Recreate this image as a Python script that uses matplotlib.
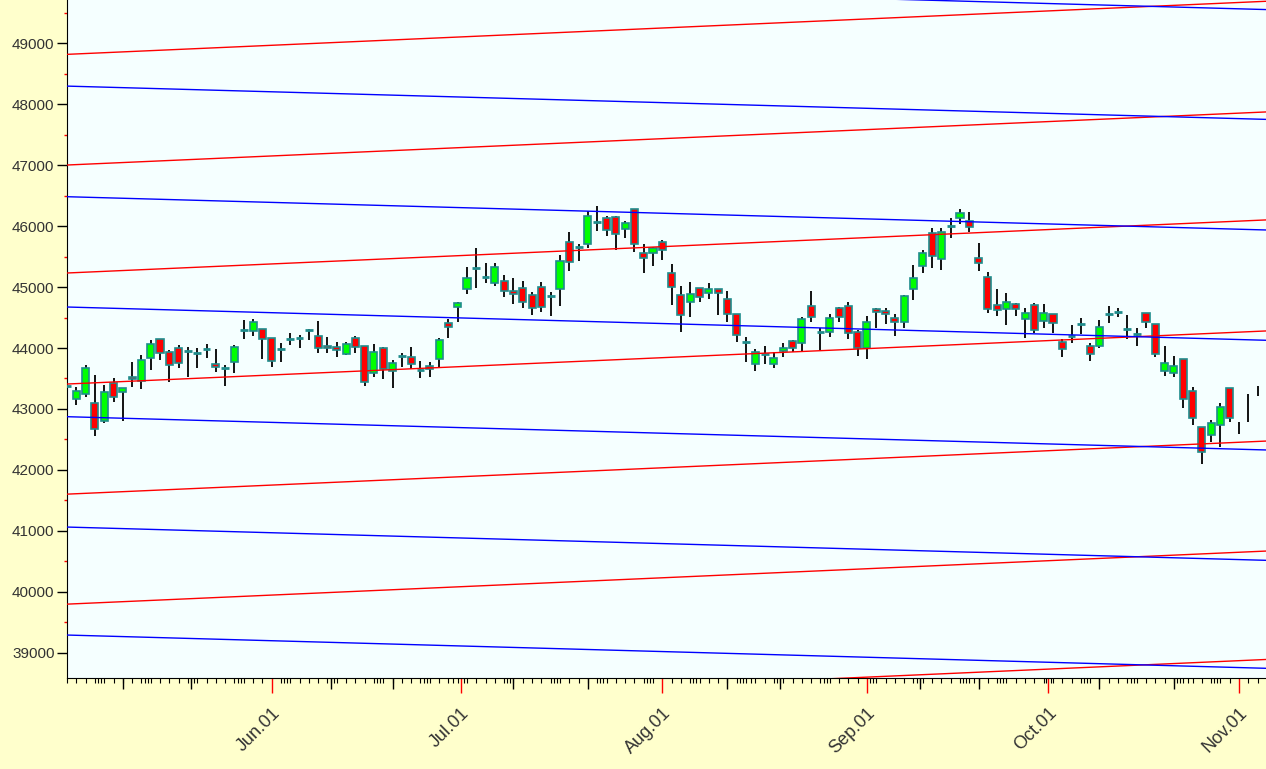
import numpy as np
import pandas as pd
import matplotlib
matplotlib.use("Agg")
import matplotlib.pyplot as plt

# Dias de mercado (2 mayo - 3 nov), sin feriados
feriados = ["2023-05-01", "2023-06-29", "2023-08-15", "2023-09-19", "2023-10-02", "2023-10-24"]
fechas = pd.bdate_range("2023-05-02", "2023-11-03", freq="C", holidays=feriados)

apertura = [43376, 43157, 43240, 43103, 42808, 43431, 43283, 43530, 43464, 43830,
            44142, 43940, 43994, 43956, 43912, 43978, 43737, 43666, 43776, 44295,
            44284, 44306, 44158, 43978, 44140, 44169, 44295, 44202, 44038, 44022,
            43896, 44169, 44033, 43595, 43994, 43622, 43874, 43858, 43639, 43710,
            43819, 44404, 44678, 44962, 45312, 45170, 45061, 45105, 44940, 44985,
            44870, 44996, 44859, 44963, 45745, 45652, 45701, 46073, 46128, 46155,
            45953, 46276, 45554, 45554, 45734, 45226, 44870, 44750, 44979, 44908,
            44963, 44799, 44558, 44093, 43745, 43902, 43738, 43957, 44121, 44088,
            44695, 44257, 44268, 44651, 44690, 44257, 43995, 44640, 44607, 44487,
            44432, 44963, 45351, 45882, 45455, 46008, 46139, 46090, 45472, 45171,
            44700, 44635, 44722, 44471, 44706, 44449, 44558, 44104, 44203, 44389,
            44039, 44039, 44553, 44585, 44312, 44224, 44569, 44389, 43628, 43585,
            43820, 43300, 42709, 42573, 42737, 43338, np.nan, np.nan, np.nan]
maximo = [43458, 43354, 43721, 43557, 43393, 43513, 43350, 43776, 43885, 44131,
          44150, 43967, 44049, 44011, 43994, 44066, 43978, 43721, 44049, 44459,
          44470, 44310, 44165, 44076, 44251, 44213, 44306, 44443, 44186, 44104,
          44104, 44197, 44040, 44066, 44022, 43803, 43923, 44022, 43792, 43765,
          44169, 44476, 44760, 45334, 45635, 45400, 45400, 45198, 45143, 45100,
          44914, 45078, 44925, 45526, 45898, 45701, 46248, 46336, 46172, 46160,
          46084, 46280, 45701, 45663, 45773, 45373, 45023, 45078, 44985, 45061,
          44968, 44941, 44565, 44186, 43980, 44038, 43940, 44077, 44125, 44504,
          44936, 44334, 44558, 44668, 44761, 44296, 44531, 44651, 44651, 44553,
          44870, 45362, 45608, 45964, 45964, 46128, 46276, 46238, 45729, 45253,
          44963, 44908, 44744, 44651, 44744, 44722, 44562, 44143, 44378, 44487,
          44077, 44460, 44690, 44651, 44542, 44334, 44572, 44392, 44033, 43869,
          43823, 43366, 42712, 42819, 43092, 43341, 42791, 43245, 43382]
minimo = [43267, 43064, 43190, 42556, 42764, 43119, 42808, 43354, 43327, 43639,
          43803, 43447, 43666, 43519, 43666, 43830, 43612, 43376, 43584, 44142,
          44197, 43814, 43683, 43776, 44049, 43994, 44131, 43912, 43912, 43846,
          43885, 43923, 43376, 43518, 43485, 43338, 43683, 43650, 43502, 43518,
          43677, 44158, 44432, 44880, 44979, 45061, 45017, 44831, 44722, 44650,
          44542, 44586, 44531, 44695, 45264, 45428, 45636, 45920, 45844, 45608,
          45800, 45570, 45226, 45346, 45444, 44706, 44268, 44514, 44750, 44804,
          44542, 44432, 44104, 43776, 43620, 43738, 43667, 43858, 43940, 43940,
          44432, 43968, 44186, 44432, 44142, 43874, 43820, 44323, 44394, 44203,
          44334, 44788, 45226, 45308, 45280, 45800, 46035, 45898, 45269, 44569,
          44525, 44378, 44525, 44159, 44252, 44323, 44241, 43847, 44088, 44224,
          43787, 43995, 44405, 44514, 44143, 44033, 44323, 43847, 43541, 43530,
          43010, 42737, 42097, 42463, 42381, 42780, 42584, 42780, 43213]
cierre = [43376, 43300, 43677, 42665, 43283, 43201, 43338, 43486, 43803, 44066,
          43923, 43721, 43759, 43956, 43912, 43978, 43694, 43666, 44011, 44295,
          44432, 44142, 43792, 43978, 44140, 44169, 44295, 44005, 44000, 43967,
          44060, 44011, 43447, 43940, 43650, 43748, 43874, 43737, 43639, 43655,
          44131, 44350, 44733, 45143, 45312, 45170, 45334, 44940, 44886, 44755,
          44651, 44678, 44859, 45433, 45417, 45652, 46172, 46073, 45937, 45866,
          46057, 45701, 45483, 45636, 45608, 45007, 44542, 44881, 44843, 44963,
          44908, 44558, 44214, 44093, 43935, 43902, 43831, 44006, 44006, 44476,
          44515, 44257, 44487, 44515, 44252, 43995, 44421, 44596, 44553, 44432,
          44859, 45144, 45565, 45516, 45909, 46008, 46210, 45991, 45390, 44635,
          44618, 44761, 44635, 44580, 44296, 44569, 44405, 43978, 44203, 44389,
          43896, 44350, 44553, 44585, 44312, 44224, 44432, 43896, 43760, 43710,
          43158, 42857, 42299, 42764, 43037, 42857, np.nan, np.nan, np.nan]

# Lineas rojas (suben) y azules (bajan): valor en el borde izq. y der.
linea_x = [0, 128.9]
rojas_ini = [38018, 39797, 41602, 43409, 45231, 47003, 48819]
rojas_fin = [38889, 40668, 42473, 44280, 46102, 47874, 49690]
azules_ini = [39290, 41062, 42873, 44673, 46483, 48298, 50100]
azules_fin = [38744, 40516, 42327, 44127, 45937, 47752, 49554]

fondo = "#FFFFCC"
borde = "#1F8C8C"

op = np.array(apertura, dtype=float)
hi = np.array(maximo, dtype=float)
lo = np.array(minimo, dtype=float)
cl = np.array(cierre, dtype=float)
x = np.arange(len(fechas))

fig = plt.figure(figsize=(12.66, 7.69), dpi=100, facecolor=fondo)
ax = fig.add_axes([67 / 1266, 91 / 769, 1 - 67 / 1266, 1 - 91 / 769])
ax.set_facecolor("#F5FFFF")

# mechas
ax.vlines(x, lo, hi, color="black", lw=1.3, zorder=2)

# cuerpos
con_cuerpo = ~np.isnan(op) & (np.abs(cl - op) > 20)
colores = np.where(cl >= op, "#00FF00", "#FF0000")[con_cuerpo]
ax.bar(x[con_cuerpo], (cl - op)[con_cuerpo], bottom=op[con_cuerpo], width=0.76,
       color=colores, edgecolor=borde, linewidth=1.2, zorder=3)

# dojis
doji = ~np.isnan(op) & (np.abs(cl - op) <= 20)
ax.hlines(op[doji], x[doji] - 0.42, x[doji] + 0.42, color=borde, lw=2, zorder=3)

# lineas del canal
for a, b in zip(rojas_ini, rojas_fin):
    ax.plot(linea_x, [a, b], color="#FF0000", lw=1.0, zorder=4)
for a, b in zip(azules_ini, azules_fin):
    ax.plot(linea_x, [a, b], color="#0000FF", lw=1.0, zorder=4)

# eje y
ax.set_yticks(range(39000, 49001, 1000))
ax.set_yticks(range(38500, 50000, 1000), minor=True)
ax.tick_params(axis="y", which="major", length=7, width=1, color="black",
               labelsize=11, labelcolor="#333333", pad=2)
ax.tick_params(axis="y", which="minor", length=2.5, width=1, color="#FF0000")

# eje x: posicion de cada dia del calendario entre sesiones
dias = pd.date_range(fechas[0], fechas[-1])
pos_dias = np.interp(dias.asi8, fechas.asi8, x)
inicio_mes = dias.day == 1
ax.set_xticks(pos_dias[inicio_mes])
ax.set_xticklabels([d.strftime("%b.%d") for d in dias[inicio_mes]], rotation=45,
                   ha="right", va="top", rotation_mode="anchor")
ax.set_xticks(pos_dias, minor=True)
ax.tick_params(axis="x", which="major", length=11, width=1, color="#FF0000",
               labelsize=13, labelcolor="#333333", pad=8)
ax.tick_params(axis="x", which="minor", length=3.8, width=0.8, color="black")

# limites despues de los ticks (set_yticks los amplia)
ax.set_xlim(0, 128.9)
ax.set_ylim(38585, 49711)

# marcas largas los dias 10 y 20
dia_10_20 = (dias.day == 10) | (dias.day == 20)
ax.vlines(pos_dias[dia_10_20], 0, -11 / 678, transform=ax.get_xaxis_transform(),
          color="black", lw=1, clip_on=False)

for lado in ["top", "right"]:
    ax.spines[lado].set_visible(False)
ax.spines["left"].set_color("black")
ax.spines["bottom"].set_color("black")

for t in ax.get_xticklabels() + ax.get_yticklabels():
    t.set_fontfamily("Liberation Sans")

fig.savefig("out.png", dpi=100, facecolor=fondo)
